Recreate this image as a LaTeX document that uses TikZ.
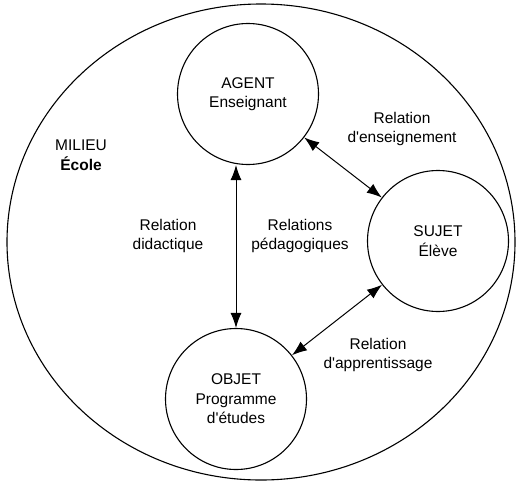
\documentclass[tikz,border=0pt]{standalone}
\usepackage{fontspec}
\setmainfont{Liberation Sans}
\usetikzlibrary{arrows.meta,positioning}

\begin{document}
\begin{tikzpicture}[x=1pt,y=-1pt,
    font=\fontsize{15.5}{19.5}\selectfont,
    pole/.style={circle,draw,line width=1.1pt,minimum size=141pt,inner sep=0pt,align=center},
    rel/.style={align=center,inner sep=0pt},
    link/.style={{Latex[length=15pt,width=11pt]}-{Latex[length=15pt,width=11pt]},line width=1pt}]
  \useasboundingbox (0,0) rectangle (516,482);
  % milieu
  \draw[line width=1.1pt] (261,242) ellipse [x radius=254,y radius=238];
  \node[rel] (milieu) at (81,155) {MILIEU\\\textbf{École}};
  % les trois poles
  \node[pole] (agent) at (248,94) {AGENT\\Enseignant};
  \node[pole] (sujet) at (438,241) {SUJET\\Élève};
  \node[pole] (objet) at (236,399) {OBJET\\Programme\\d\textquotesingle études};
  % relations
  \draw[link] (objet.north |- agent.south) -- (objet.north);
  \draw[link] (agent) -- (sujet);
  \draw[link] (sujet) -- (objet);
  \node[rel] (didac) at (168,236) {Relation\\didactique};
  \node[rel] (pedag) at (300,236) {Relations\\pédagogiques};
  \node[rel] (enseig) at (402,129) {Relation\\d\textquotesingle enseignement};
  \node[rel] (appren) at (378,355) {Relation\\d\textquotesingle apprentissage};
\end{tikzpicture}
\end{document}
